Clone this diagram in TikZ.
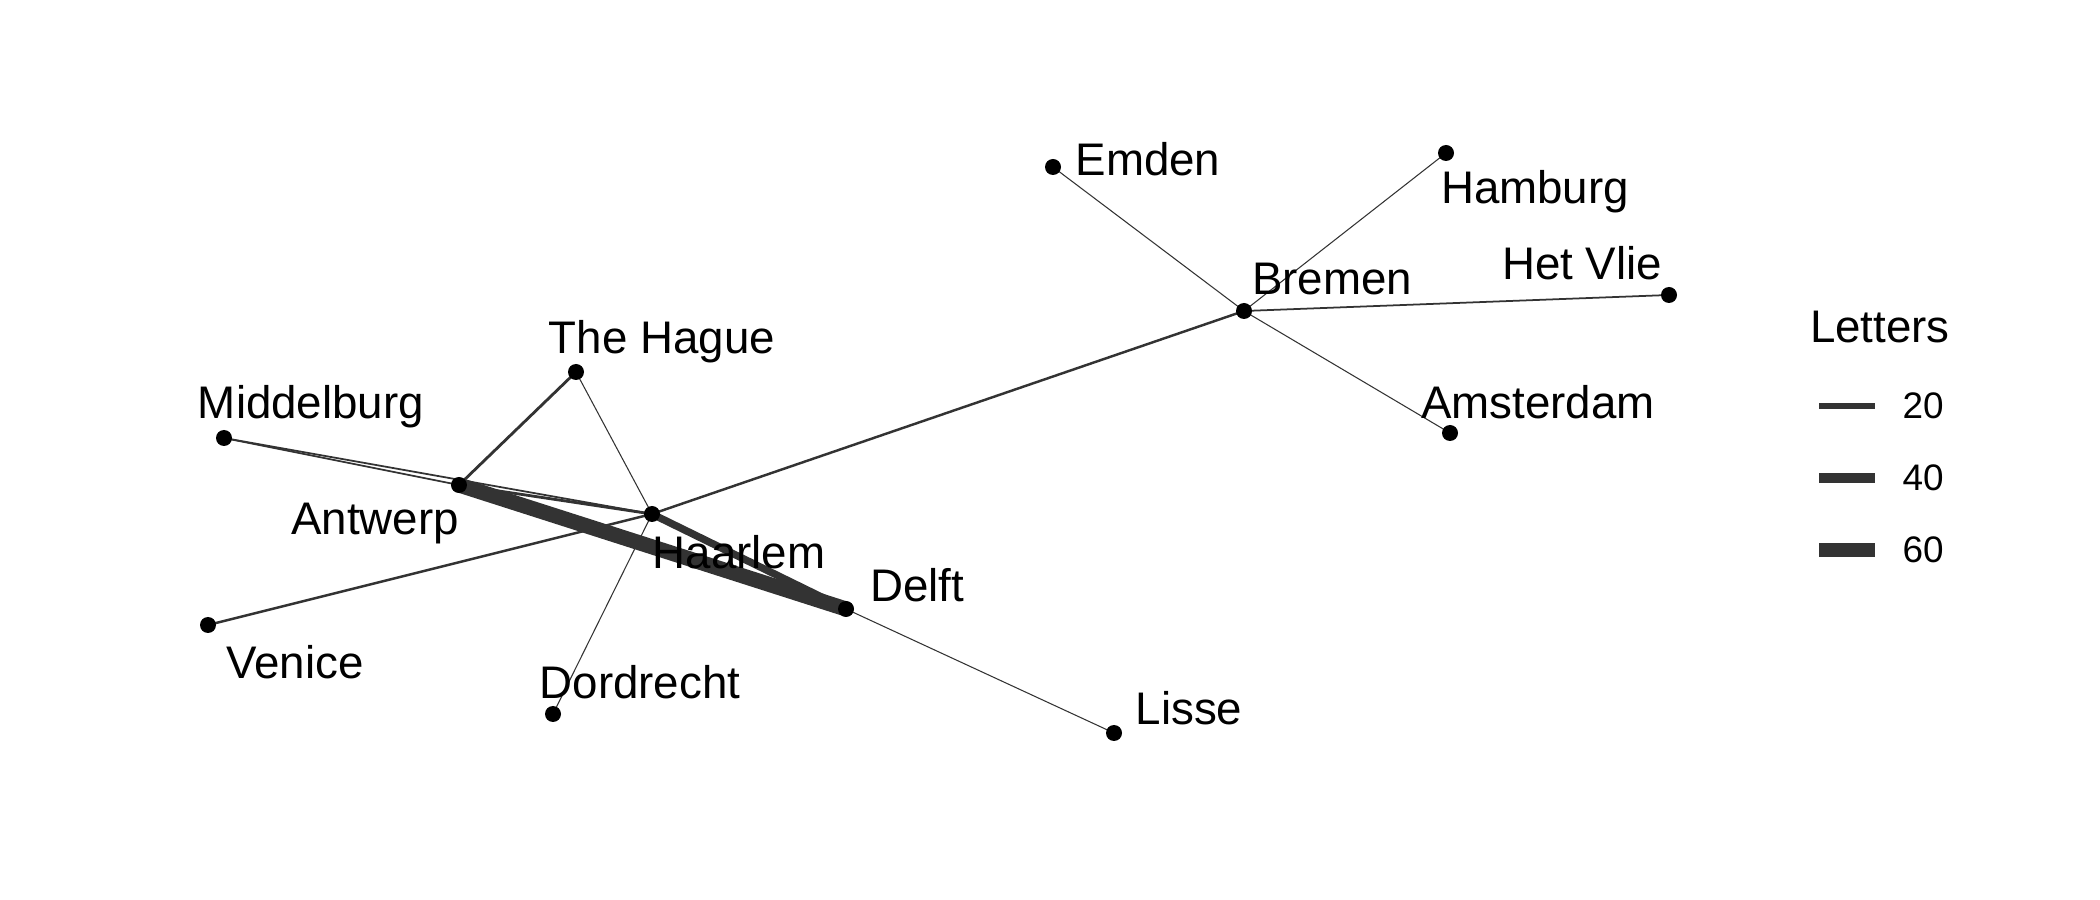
\documentclass[tikz,border=0pt]{standalone}
\usepackage{fontspec}
\setmainfont{Liberation Sans}
\usetikzlibrary{positioning, calc, backgrounds}

\begin{document}
\begin{tikzpicture}[
    city/.style={circle, fill=black, inner sep=0pt, minimum size=1.6mm},
    citylabel/.style={font=\fontsize{13}{15}\selectfont, inner sep=0pt},
    link/.style={draw=black!80, line cap=round},
    keyline/.style={draw=black!80, line cap=butt},
    keytext/.style={font=\fontsize{10.5}{12}\selectfont, inner sep=0pt, anchor=west}
]
    \useasboundingbox (0,0) rectangle (21,9);

    % Places
    \node[city] (emden) at (10.53,7.33) {};
    \node[city] (hamburg) at (14.46,7.47) {};
    \node[city] (bremen) at (12.44,5.89) {};
    \node[city] (vlie) at (16.69,6.05) {};
    \node[city] (amsterdam) at (14.50,4.67) {};
    \node[city] (hague) at (5.76,5.28) {};
    \node[city] (middelburg) at (2.24,4.62) {};
    \node[city] (antwerp) at (4.59,4.15) {};
    \node[city] (haarlem) at (6.52,3.86) {};
    \node[city] (delft) at (8.46,2.91) {};
    \node[city] (venice) at (2.08,2.75) {};
    \node[city] (dordrecht) at (5.53,1.86) {};
    \node[city] (lisse) at (11.14,1.67) {};

    % Letters sent
    \begin{scope}[on background layer]
        \draw[link, line width=4.3pt] (antwerp.center) -- (delft.center);
        \draw[link, line width=2.1pt] (haarlem.center) -- (delft.center);
        \draw[link, line width=0.8pt] (antwerp.center) -- (haarlem.center);
        \draw[link, line width=0.8pt] (hague.center) -- (antwerp.center);
        \draw[link, line width=0.3pt] (hague.center) -- (haarlem.center);
        \draw[link, line width=0.5pt] (middelburg.center) -- (antwerp.center);
        \draw[link, line width=0.5pt] (middelburg.center) -- (haarlem.center);
        \draw[link, line width=0.7pt] (venice.center) -- (haarlem.center);
        \draw[link, line width=0.7pt] (haarlem.center) -- (bremen.center);
        \draw[link, line width=0.3pt] (haarlem.center) -- (dordrecht.center);
        \draw[link, line width=0.3pt] (delft.center) -- (lisse.center);
        \draw[link, line width=0.3pt] (emden.center) -- (bremen.center);
        \draw[link, line width=0.3pt] (hamburg.center) -- (bremen.center);
        \draw[link, line width=0.5pt] (bremen.center) -- (vlie.center);
        \draw[link, line width=0.3pt] (bremen.center) -- (amsterdam.center);
    \end{scope}

    % Names
    \node[citylabel] (emden_l) at (11.48,7.41) {Emden};
    \node[citylabel] (hamburg_l) at (15.35,7.08) {Hamburg};
    \node[citylabel] (bremen_l) at (13.32,6.21) {Bremen};
    \node[citylabel] (vlie_l) at (15.82,6.37) {Het Vlie};
    \node[citylabel] (amsterdam_l) at (15.38,4.98) {Amsterdam};
    \node[citylabel] (hague_l) at (6.62,5.58) {The Hague};
    \node[citylabel] (middelburg_l) at (3.11,4.93) {Middelburg};
    \node[citylabel] (antwerp_l) at (3.75,3.76) {Antwerp};
    \node[citylabel] (haarlem_l) at (7.39,3.48) {Haarlem};
    \node[citylabel] (delft_l) at (9.17,3.15) {Delft};
    \node[citylabel] (venice_l) at (2.95,2.38) {Venice};
    \node[citylabel] (dordrecht_l) at (6.40,2.18) {Dordrecht};
    \node[citylabel] (lisse_l) at (11.89,1.92) {Lisse};

    % Legend
    \node[citylabel] (legend_title) at (18.80,5.73) {Letters};
    \coordinate (k20a) at (18.19,4.94);
    \coordinate (k20b) at (18.75,4.94);
    \coordinate (k40a) at (18.19,4.22);
    \coordinate (k40b) at (18.75,4.22);
    \coordinate (k60a) at (18.19,3.50);
    \coordinate (k60b) at (18.75,3.50);
    \draw[keyline, line width=1.7pt] (k20a) -- (k20b);
    \draw[keyline, line width=2.9pt] (k40a) -- (k40b);
    \draw[keyline, line width=4.1pt] (k60a) -- (k60b);
    \node[keytext, right=0.27cm of k20b] (k20) {20};
    \node[keytext, right=0.27cm of k40b] (k40) {40};
    \node[keytext, right=0.27cm of k60b] (k60) {60};

\end{tikzpicture}
\end{document}
